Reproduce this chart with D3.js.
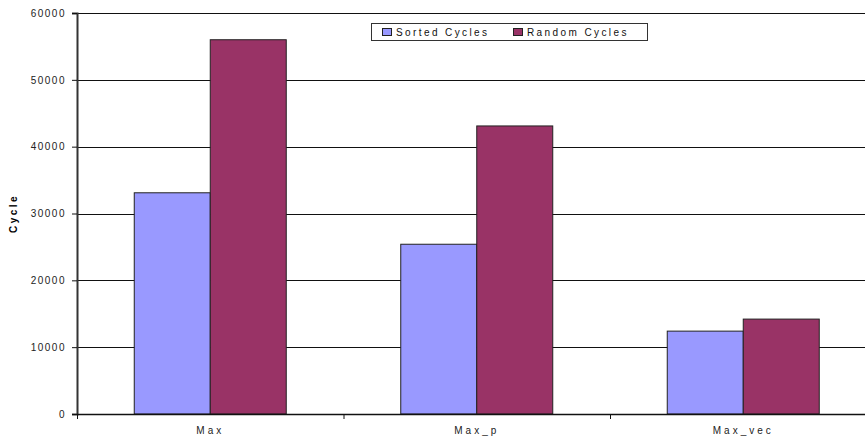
<!DOCTYPE html>
<html>
<head>
<meta charset="utf-8">
<script src="https://cdn.jsdelivr.net/npm/d3@7"></script>
<style>
  body { margin: 0; background: #fff; }
  svg text { font-family: "Liberation Sans", Arial, sans-serif; }
</style>
</head>
<body>
<div class="visHolder"></div>
<script>
const categories = ["Max", "Max_p", "Max_vec"];
const series = ["Sorted Cycles", "Random Cycles"];
const sortedCycles = [33100, 25400, 12400];
const randomCycles = [56000, 43100, 14200];
const yTicks = [0, 10000, 20000, 30000, 40000, 50000, 60000];

const colors = ["#9999ff", "#993366"];

const width = 865;
const height = 437;
const plotLeft = 77;
const plotTop = 13;
const plotBottom = 414;
const bandW = 266.5;

const data = categories.map((c, i) => ({
  cat: c,
  values: [sortedCycles[i], randomCycles[i]],
}));

const svg = d3
  .select(".visHolder")
  .append("svg")
  .attr("width", width)
  .attr("height", height);

const xScale = d3
  .scaleBand()
  .domain(categories)
  .range([plotLeft, plotLeft + bandW * categories.length])
  .padding(0);

const gap = (xScale.bandwidth() - 152) / 2;
const x1 = d3
  .scaleBand()
  .domain(series)
  .range([gap, xScale.bandwidth() - gap])
  .padding(0);

const yScale = d3.scaleLinear().domain([0, 60000]).range([plotBottom, plotTop]);

// gridlines
svg
  .append("g")
  .selectAll("line")
  .data(yTicks.filter((t) => t > 0))
  .enter()
  .append("line")
  .attr("x1", plotLeft)
  .attr("x2", width)
  .attr("y1", (d) => Math.round(yScale(d)) + 0.5)
  .attr("y2", (d) => Math.round(yScale(d)) + 0.5)
  .attr("stroke", "#111")
  .attr("stroke-width", 1);

// bars
const groups = svg
  .selectAll(".grp")
  .data(data)
  .enter()
  .append("g")
  .attr("class", "grp")
  .attr("transform", (d) => `translate(${xScale(d.cat)},0)`);

groups
  .selectAll("rect")
  .data((d) => d.values.map((v, i) => ({ key: series[i], v: v, i: i })))
  .enter()
  .append("rect")
  .attr("x", (d) => x1(d.key))
  .attr("y", (d) => yScale(d.v))
  .attr("width", x1.bandwidth())
  .attr("height", (d) => plotBottom - yScale(d.v))
  .attr("fill", (d) => colors[d.i])
  .attr("stroke", "#222")
  .attr("stroke-width", 1);

// y axis
const yAxis = d3
  .axisLeft(yScale)
  .tickValues(yTicks)
  .tickSize(5)
  .tickPadding(6)
  .tickFormat(d3.format("d"));

const gy = svg
  .append("g")
  .attr("transform", `translate(${plotLeft},0)`)
  .call(yAxis);
gy.select(".domain").attr("stroke", "#333").attr("stroke-width", 2);
gy.selectAll(".tick line").attr("stroke", "#111");
gy.selectAll(".tick text")
  .attr("font-size", 10)
  .attr("font-family", "Liberation Sans, Arial, sans-serif")
  .attr("fill", "#222")
  .attr("letter-spacing", "1.5px");

// x axis
const gx = svg.append("g").attr("transform", `translate(0,${plotBottom})`);
gx.append("line")
  .attr("x1", plotLeft)
  .attr("x2", width)
  .attr("y1", 0.5)
  .attr("y2", 0.5)
  .attr("stroke", "#111")
  .attr("stroke-width", 1.5);
gx.selectAll(".xt")
  .data(categories)
  .enter()
  .append("line")
  .attr("class", "xt")
  .attr("x1", (d) => xScale(d) + 0.5)
  .attr("x2", (d) => xScale(d) + 0.5)
  .attr("y1", 0)
  .attr("y2", 5)
  .attr("stroke", "#111");
gx.selectAll("text")
  .data(categories)
  .enter()
  .append("text")
  .attr("x", (d) => xScale(d) + xScale.bandwidth() / 2)
  .attr("y", 20)
  .attr("text-anchor", "middle")
  .attr("font-size", 10)
  .attr("fill", "#222")
  .attr("letter-spacing", "3px")
  .text((d) => d);

// y title
svg
  .append("text")
  .attr("transform", `translate(17,${(plotTop + plotBottom) / 2}) rotate(-90)`)
  .attr("text-anchor", "middle")
  .attr("font-size", 10)
  .attr("font-weight", "bold")
  .attr("letter-spacing", "2.5px")
  .text("Cycle");

// legend
const legend = svg.append("g").attr("transform", "translate(371,23)");
legend
  .append("rect")
  .attr("x", 0.5)
  .attr("y", 0.5)
  .attr("width", 276)
  .attr("height", 17)
  .attr("fill", "#fff")
  .attr("stroke", "#333");
const items = legend
  .selectAll(".item")
  .data(series)
  .enter()
  .append("g")
  .attr("class", "item")
  .attr("transform", (d, i) => `translate(${[11, 142][i]},0)`);
items
  .append("rect")
  .attr("x", 0.5)
  .attr("y", 5.5)
  .attr("width", 9)
  .attr("height", 7)
  .attr("fill", (d, i) => colors[i])
  .attr("stroke", "#222");
items
  .append("text")
  .attr("x", 14)
  .attr("y", 13)
  .attr("font-size", 10)
  .attr("fill", "#111")
  .attr("letter-spacing", "2.4px")
  .text((d) => d);
</script>
</body>
</html>
